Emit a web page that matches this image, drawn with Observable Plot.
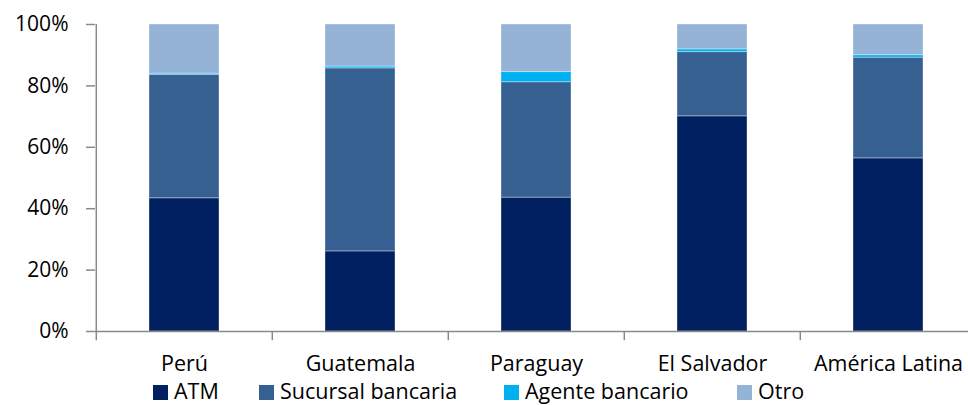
<!DOCTYPE html>
<html>
<head>
<meta charset="utf-8">
<script src="https://cdn.jsdelivr.net/npm/d3@7"></script>
<script src="https://cdn.jsdelivr.net/npm/@observablehq/plot@0.6"></script>
<style>
  html, body { margin: 0; padding: 0; background: #fff; }
  #wrap { position: relative; width: 968px; height: 405px; overflow: hidden; font-family: "Open Sans", sans-serif; color: #000; }
  #legend .item { position: absolute; top: 381px; font-size: 21.5px; line-height: 20px; white-space: nowrap; }
  #legend .sw { display: inline-block; width: 15px; height: 15px; margin-right: 6px; vertical-align: -1px; }
</style>
</head>
<body>
<div id="wrap"><div id="chart"></div><div id="legend"></div></div>
<script>
const categorias = ["Perú", "Guatemala", "Paraguay", "El Salvador", "América Latina"];
const series = ["ATM", "Sucursal bancaria", "Agente bancario", "Otro"];
const atm = [43.4, 26.1, 43.6, 70.1, 56.4];
const sucursal = [40.2, 59.6, 37.6, 20.9, 32.8];
const agente = [0.4, 0.6, 3.3, 0.9, 0.8];
const otro = [16.0, 13.7, 15.5, 8.1, 10.0];
const yTicks = [0, 20, 40, 60, 80, 100];
const colores = ["#002060", "#366092", "#00B0F0", "#95B3D7"];

const valores = [atm, sucursal, agente, otro];
const rows = [];
series.forEach((s, si) => categorias.forEach((c, ci) => rows.push({pais: c, serie: s, valor: valores[si][ci]})));

const axisColor = "#8a8a8a";
const chart = Plot.plot({
  width: 968,
  height: 380,
  marginLeft: 95,
  marginRight: 0,
  marginTop: 24,
  marginBottom: 49,
  style: {fontFamily: "'Open Sans', sans-serif", fontSize: "21px", color: "#000", background: "#fff", overflow: "visible"},
  x: {domain: categorias, range: [95, 977], paddingInner: 0.6, paddingOuter: 0.3, label: null},
  y: {domain: [0, 100], label: null},
  color: {domain: series, range: colores},
  marks: [
    Plot.barY(rows, {x: "pais", y: "valor", fill: "serie", order: series, stroke: "white", strokeOpacity: 0.35, strokeWidth: 1}),
    Plot.ruleY([0], {stroke: axisColor, strokeWidth: 1.5}),
    Plot.ruleX(categorias.slice(0, 1), {x: d => d, dx: -88.2, y1: -3, y2: 100, stroke: axisColor, strokeWidth: 1.5}),
    Plot.ruleX(categorias.slice(1), {x: d => d, dx: -88.2, y1: -3, y2: 0, stroke: axisColor, strokeWidth: 1.5}),
    Plot.axisY({ticks: yTicks, tickFormat: d => d + "%", tickSize: 9, tickPadding: 18, stroke: axisColor, strokeWidth: 1.5, fill: "#000", fontSize: 21}),
    Plot.axisX({tickSize: 0, tickPadding: 24, fill: "#000", fontSize: 21.5})
  ]
});
document.getElementById("chart").appendChild(chart);

const legendLeft = [153, 259, 504, 737];
const legend = document.getElementById("legend");
series.forEach((s, i) => {
  const it = document.createElement("div");
  it.className = "item";
  it.style.left = legendLeft[i] + "px";
  it.innerHTML = `<span class="sw" style="background:${colores[i]}"></span>${s}`;
  legend.appendChild(it);
});
</script>
</body>
</html>
